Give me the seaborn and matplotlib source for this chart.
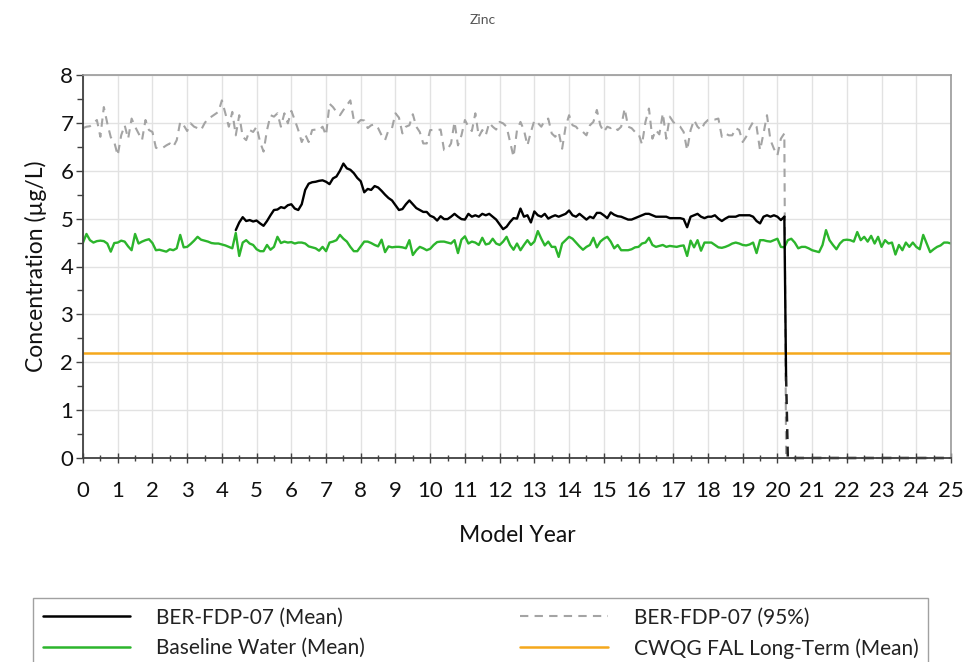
import numpy as np
import pandas as pd
import matplotlib
matplotlib.use("Agg")
import matplotlib.pyplot as plt
from matplotlib.lines import Line2D
from matplotlib.ticker import MultipleLocator
import seaborn as sns

# ---------------- data ----------------
title = "Zinc"
x_label = "Model Year"
y_label = "Concentration (µg/L)"
x_ticks = list(range(0, 26))
y_ticks = list(range(0, 9))

series_names = ["BER-FDP-07 (Mean)", "BER-FDP-07 (95%)",
                "Baseline Water (Mean)", "CWQG FAL Long-Term (Mean)"]

# Baseline Water (Mean): years 0.0 .. 25.0, every 0.1 year
baseline_start, baseline_step = 0.0, 0.1
baseline_values = [
    4.50, 4.68, 4.55, 4.50, 4.53, 4.54, 4.53, 4.48, 4.31, 4.49,
    4.50, 4.54, 4.52, 4.42, 4.34, 4.68, 4.48, 4.52, 4.55, 4.57,
    4.49, 4.34, 4.35, 4.33, 4.31, 4.36, 4.34, 4.38, 4.66, 4.40,
    4.41, 4.47, 4.54, 4.62, 4.56, 4.54, 4.52, 4.49, 4.48, 4.48,
    4.46, 4.44, 4.41, 4.38, 4.70, 4.22, 4.50, 4.55, 4.48, 4.45,
    4.36, 4.32, 4.32, 4.45, 4.35, 4.41, 4.62, 4.49, 4.52, 4.50,
    4.51, 4.48, 4.50, 4.50, 4.48, 4.42, 4.40, 4.38, 4.33, 4.41,
    4.32, 4.50, 4.52, 4.55, 4.66, 4.58, 4.52, 4.41, 4.32, 4.32,
    4.42, 4.52, 4.52, 4.49, 4.45, 4.42, 4.56, 4.30, 4.42, 4.40,
    4.41, 4.41, 4.40, 4.38, 4.55, 4.24, 4.34, 4.41, 4.38, 4.34,
    4.37, 4.45, 4.51, 4.52, 4.52, 4.50, 4.48, 4.55, 4.28, 4.56,
    4.63, 4.48, 4.52, 4.50, 4.45, 4.60, 4.46, 4.48, 4.58, 4.48,
    4.45, 4.52, 4.62, 4.45, 4.35, 4.48, 4.34, 4.45, 4.55, 4.45,
    4.52, 4.74, 4.58, 4.44, 4.52, 4.41, 4.41, 4.20, 4.48, 4.55,
    4.62, 4.58, 4.50, 4.42, 4.35, 4.41, 4.45, 4.60, 4.40, 4.52,
    4.58, 4.62, 4.52, 4.38, 4.45, 4.34, 4.34, 4.34, 4.36, 4.40,
    4.41, 4.48, 4.50, 4.60, 4.45, 4.41, 4.43, 4.45, 4.41, 4.43,
    4.42, 4.41, 4.43, 4.44, 4.22, 4.54, 4.40, 4.55, 4.33, 4.50,
    4.50, 4.50, 4.45, 4.40, 4.39, 4.41, 4.44, 4.48, 4.50, 4.48,
    4.45, 4.44, 4.46, 4.50, 4.28, 4.55, 4.55, 4.53, 4.52, 4.55,
    4.58, 4.41, 4.40, 4.55, 4.58, 4.50, 4.38, 4.41, 4.41, 4.38,
    4.34, 4.32, 4.30, 4.45, 4.76, 4.55, 4.45, 4.36, 4.48, 4.55,
    4.56, 4.55, 4.52, 4.72, 4.55, 4.62, 4.52, 4.64, 4.48, 4.62,
    4.41, 4.55, 4.48, 4.50, 4.25, 4.45, 4.34, 4.50, 4.41, 4.50,
    4.41, 4.36, 4.66, 4.48, 4.30, 4.36, 4.41, 4.44, 4.50, 4.50,
    4.48,
]

# BER-FDP-07 (Mean): years 4.4 .. 20.2, every 0.1 year, then the drop to zero
mean_start, mean_step = 4.4, 0.1
mean_values = [
    4.76, 4.92, 5.03, 4.95, 4.97, 4.94,
    4.96, 4.90, 4.85, 4.95, 5.07, 5.18, 5.19, 5.24, 5.22, 5.28,
    5.30, 5.21, 5.18, 5.30, 5.60, 5.73, 5.76, 5.77, 5.79, 5.80,
    5.77, 5.72, 5.84, 5.88, 6.00, 6.15, 6.05, 6.02, 5.95, 5.85,
    5.78, 5.55, 5.62, 5.60, 5.68, 5.65, 5.58, 5.50, 5.43, 5.38,
    5.28, 5.18, 5.20, 5.30, 5.38, 5.30, 5.22, 5.18, 5.14, 5.14,
    5.06, 5.03, 4.96, 5.05, 4.99, 4.99, 5.04, 5.10, 5.04, 4.99,
    4.98, 5.10, 5.04, 5.07, 5.04, 5.10, 5.07, 5.10, 5.04, 4.98,
    4.88, 4.78, 4.83, 4.93, 5.01, 5.00, 5.21, 5.04, 5.07, 4.92,
    5.15, 5.07, 5.04, 5.10, 5.00, 5.04, 5.07, 5.04, 5.07, 5.10,
    5.17, 5.07, 5.04, 5.10, 5.04, 4.98, 5.04, 5.01, 5.12, 5.12,
    5.07, 5.01, 5.13, 5.08, 5.05, 5.04, 5.01, 4.98, 4.98, 5.01,
    5.04, 5.07, 5.10, 5.10, 5.07, 5.04, 5.04, 5.04, 5.04, 5.01,
    5.01, 5.01, 5.01, 4.99, 4.82, 5.04, 5.07, 5.10, 5.04, 5.01,
    5.04, 5.04, 5.07, 5.00, 4.95, 5.00, 5.04, 5.04, 5.04, 5.07,
    5.07, 5.07, 5.07, 5.04, 4.95, 4.90, 5.04, 5.07, 5.04, 5.07,
    5.04, 4.97, 5.04,
]
mean_drop_years = [20.25, 20.3, 25.0]
mean_drop_values = [1.7, 0.0, 0.0]

# BER-FDP-07 (95%): years 0.0 .. 20.2, every 0.1 year, then the drop to zero
p95_start, p95_step = 0.0, 0.1
p95_values = [
    6.89, 6.92, 6.93, 6.99, 7.06, 6.71, 7.33, 6.99, 6.70, 6.60,
    6.32, 6.74, 6.95, 6.67, 7.09, 6.92, 6.78, 6.64, 7.06, 6.85,
    6.81, 6.48, 6.46, 6.48, 6.53, 6.57, 6.50, 6.64, 7.02, 6.95,
    6.83, 6.99, 6.92, 6.89, 6.85, 6.99, 7.09, 7.13, 7.18, 7.23,
    7.47, 7.20, 6.92, 7.23, 6.74, 7.16, 6.71, 6.64, 6.85, 6.81,
    6.92, 6.60, 6.40, 6.85, 7.16, 7.13, 7.20, 6.92, 7.20, 6.99,
    7.25, 7.06, 6.85, 6.60, 6.76, 6.60, 6.85, 6.86, 6.85, 6.92,
    6.74, 7.40, 7.33, 7.23, 7.16, 7.27, 7.37, 7.47, 7.06, 6.99,
    7.06, 7.05, 6.89, 6.95, 6.97, 6.89, 6.74, 6.64, 6.85, 6.89,
    7.20, 7.11, 6.78, 6.92, 6.95, 7.18, 6.92, 6.81, 6.57, 6.57,
    6.85, 6.85, 6.85, 6.86, 6.43, 6.45, 6.57, 7.02, 6.53, 6.74,
    7.06, 6.92, 6.83, 7.20, 6.71, 6.85, 6.74, 7.00, 6.92, 6.86,
    7.02, 6.99, 6.92, 6.60, 6.29, 6.85, 7.02, 6.85, 6.53, 6.81,
    7.05, 7.00, 6.92, 7.05, 7.09, 6.78, 6.71, 6.81, 6.46, 6.92,
    7.16, 6.95, 6.92, 6.83, 6.81, 6.74, 6.95, 7.02, 7.27, 6.95,
    6.81, 6.92, 6.89, 6.92, 6.85, 6.92, 7.30, 6.92, 6.89, 6.81,
    6.78, 6.55, 7.02, 7.30, 6.67, 6.85, 6.76, 7.20, 6.67, 7.13,
    7.02, 6.95, 6.92, 6.81, 6.43, 6.85, 7.06, 6.92, 6.85, 6.99,
    7.06, 7.07, 7.07, 7.09, 6.71, 6.78, 6.74, 6.74, 6.89, 6.85,
    6.60, 6.71, 6.89, 7.02, 6.92, 6.43, 6.78, 7.16, 6.64, 6.46,
    6.32, 6.67, 6.78,
]
p95_drop_years = [20.25, 25.0]
p95_drop_values = [0.0, 0.0]

# CWQG FAL Long-Term (Mean)
cwqg_years = [0.0, 25.0]
cwqg_values = [2.2, 2.2]

# ---------------- build tables ----------------
baseline_years = np.round(baseline_start + baseline_step * np.arange(len(baseline_values)), 2)
mean_years = np.round(mean_start + mean_step * np.arange(len(mean_values)), 2)
p95_years = np.round(p95_start + p95_step * np.arange(len(p95_values)), 2)

df_base = pd.DataFrame({"year": baseline_years, "value": baseline_values})
df_mean = pd.DataFrame({"year": list(mean_years), "value": mean_values})
df_mean_tail = pd.DataFrame({"year": [mean_years[-1]] + mean_drop_years,
                             "value": [mean_values[-1]] + mean_drop_values})
df_p95 = pd.DataFrame({"year": list(p95_years) + p95_drop_years,
                       "value": p95_values + p95_drop_values})
df_cwqg = pd.DataFrame({"year": cwqg_years, "value": cwqg_values})

# ---------------- style ----------------
sns.set_theme(style="white")
plt.rcParams["font.family"] = ["Lato", "DejaVu Sans"]

C_BLACK = "#000000"
C_GREY = "#a4a4a4"
C_GREEN = "#2cb52c"
C_ORANGE = "#f5a81c"
DASH = (0, (4, 3))

fig = plt.figure(figsize=(9.68, 6.62), dpi=100)
ax = fig.add_axes([83 / 968, 1 - 458 / 662, (951 - 83) / 968, (458 - 75) / 662])

ax.set_xlim(0, 25)
ax.set_ylim(0, 8)
ax.grid(True, which="major", color="#e2e2e2", linewidth=1.0)
ax.set_axisbelow(True)

sns.lineplot(data=df_cwqg, x="year", y="value", ax=ax, color=C_ORANGE,
             linewidth=1.8, estimator=None, sort=False)
sns.lineplot(data=df_p95, x="year", y="value", ax=ax, color=C_GREY,
             linewidth=1.5, linestyle=DASH, estimator=None, sort=False,
             clip_on=False)
sns.lineplot(data=df_base, x="year", y="value", ax=ax, color=C_GREEN,
             linewidth=1.7, estimator=None, sort=False)
sns.lineplot(data=df_mean, x="year", y="value", ax=ax, color=C_BLACK,
             linewidth=1.7, estimator=None, sort=False)
# solid part of the drop, then the dashed tail along zero
ax.plot(df_mean_tail["year"][:2], df_mean_tail["value"][:2], color=C_BLACK,
        linewidth=1.7)
ax.plot(df_mean_tail["year"][1:], df_mean_tail["value"][1:], color="#202020",
        linewidth=1.8, linestyle=(0, (4, 3)), clip_on=False)

# ---------------- axes cosmetics ----------------
ax.set_xticks(x_ticks)
ax.set_yticks(y_ticks)
ax.xaxis.set_minor_locator(MultipleLocator(0.5))
ax.yaxis.set_minor_locator(MultipleLocator(0.5))
ax.tick_params(axis="x", which="major", direction="inout", length=7,
               width=1.0, color="#404040", labelsize=16, labelcolor="#111111",
               bottom=True, pad=13)
ax.tick_params(axis="x", which="minor", direction="inout", length=5,
               width=1.0, color="#404040", bottom=True)
ax.tick_params(axis="y", which="major", direction="out", length=5,
               width=1.0, color="#404040", labelsize=16, labelcolor="#111111",
               left=True, pad=2)
ax.tick_params(axis="y", which="minor", direction="out", length=4,
               width=1.0, color="#404040", left=True)

for side in ["left", "bottom"]:
    ax.spines[side].set_color("#404040")
    ax.spines[side].set_linewidth(1.3)
for side in ["top", "right"]:
    ax.spines[side].set_color("#9a9a9a")
    ax.spines[side].set_linewidth(1.2)

ax.set_xlabel(x_label, fontsize=16.5, color="#111111")
ax.set_ylabel(y_label, fontsize=16.5, color="#111111")
ax.xaxis.set_label_coords(0.5, -(525 - 458) / 383)
ax.yaxis.set_label_coords(-(83 - 47) / 868, 0.5)
fig.text(483 / 968, 1 - 20 / 662, title, ha="center", va="center",
         fontsize=10, color="#555555")

# ---------------- legend ----------------
handles = [
    Line2D([], [], color=C_BLACK, linewidth=1.8),
    Line2D([], [], color=C_GREEN, linewidth=1.8),
    Line2D([], [], color=C_GREY, linewidth=1.5, linestyle=DASH),
    Line2D([], [], color=C_ORANGE, linewidth=1.8),
]
labels = [series_names[0], series_names[2], series_names[1], series_names[3]]
leg = fig.legend(handles, labels, ncol=2, loc="upper left",
                 bbox_to_anchor=(33 / 968, 1 - 598 / 662, (928 - 33) / 968, 0.0),
                 mode="expand", borderaxespad=0, frameon=True, fancybox=False,
                 fontsize=15, handlelength=4.2, handletextpad=1.25,
                 labelspacing=0.5, borderpad=0.46, columnspacing=6)
leg.get_frame().set_edgecolor("#8a8a8a")
leg.get_frame().set_linewidth(1.0)
for t in leg.get_texts():
    t.set_color("#222222")

fig.savefig("out.png", dpi=100)
